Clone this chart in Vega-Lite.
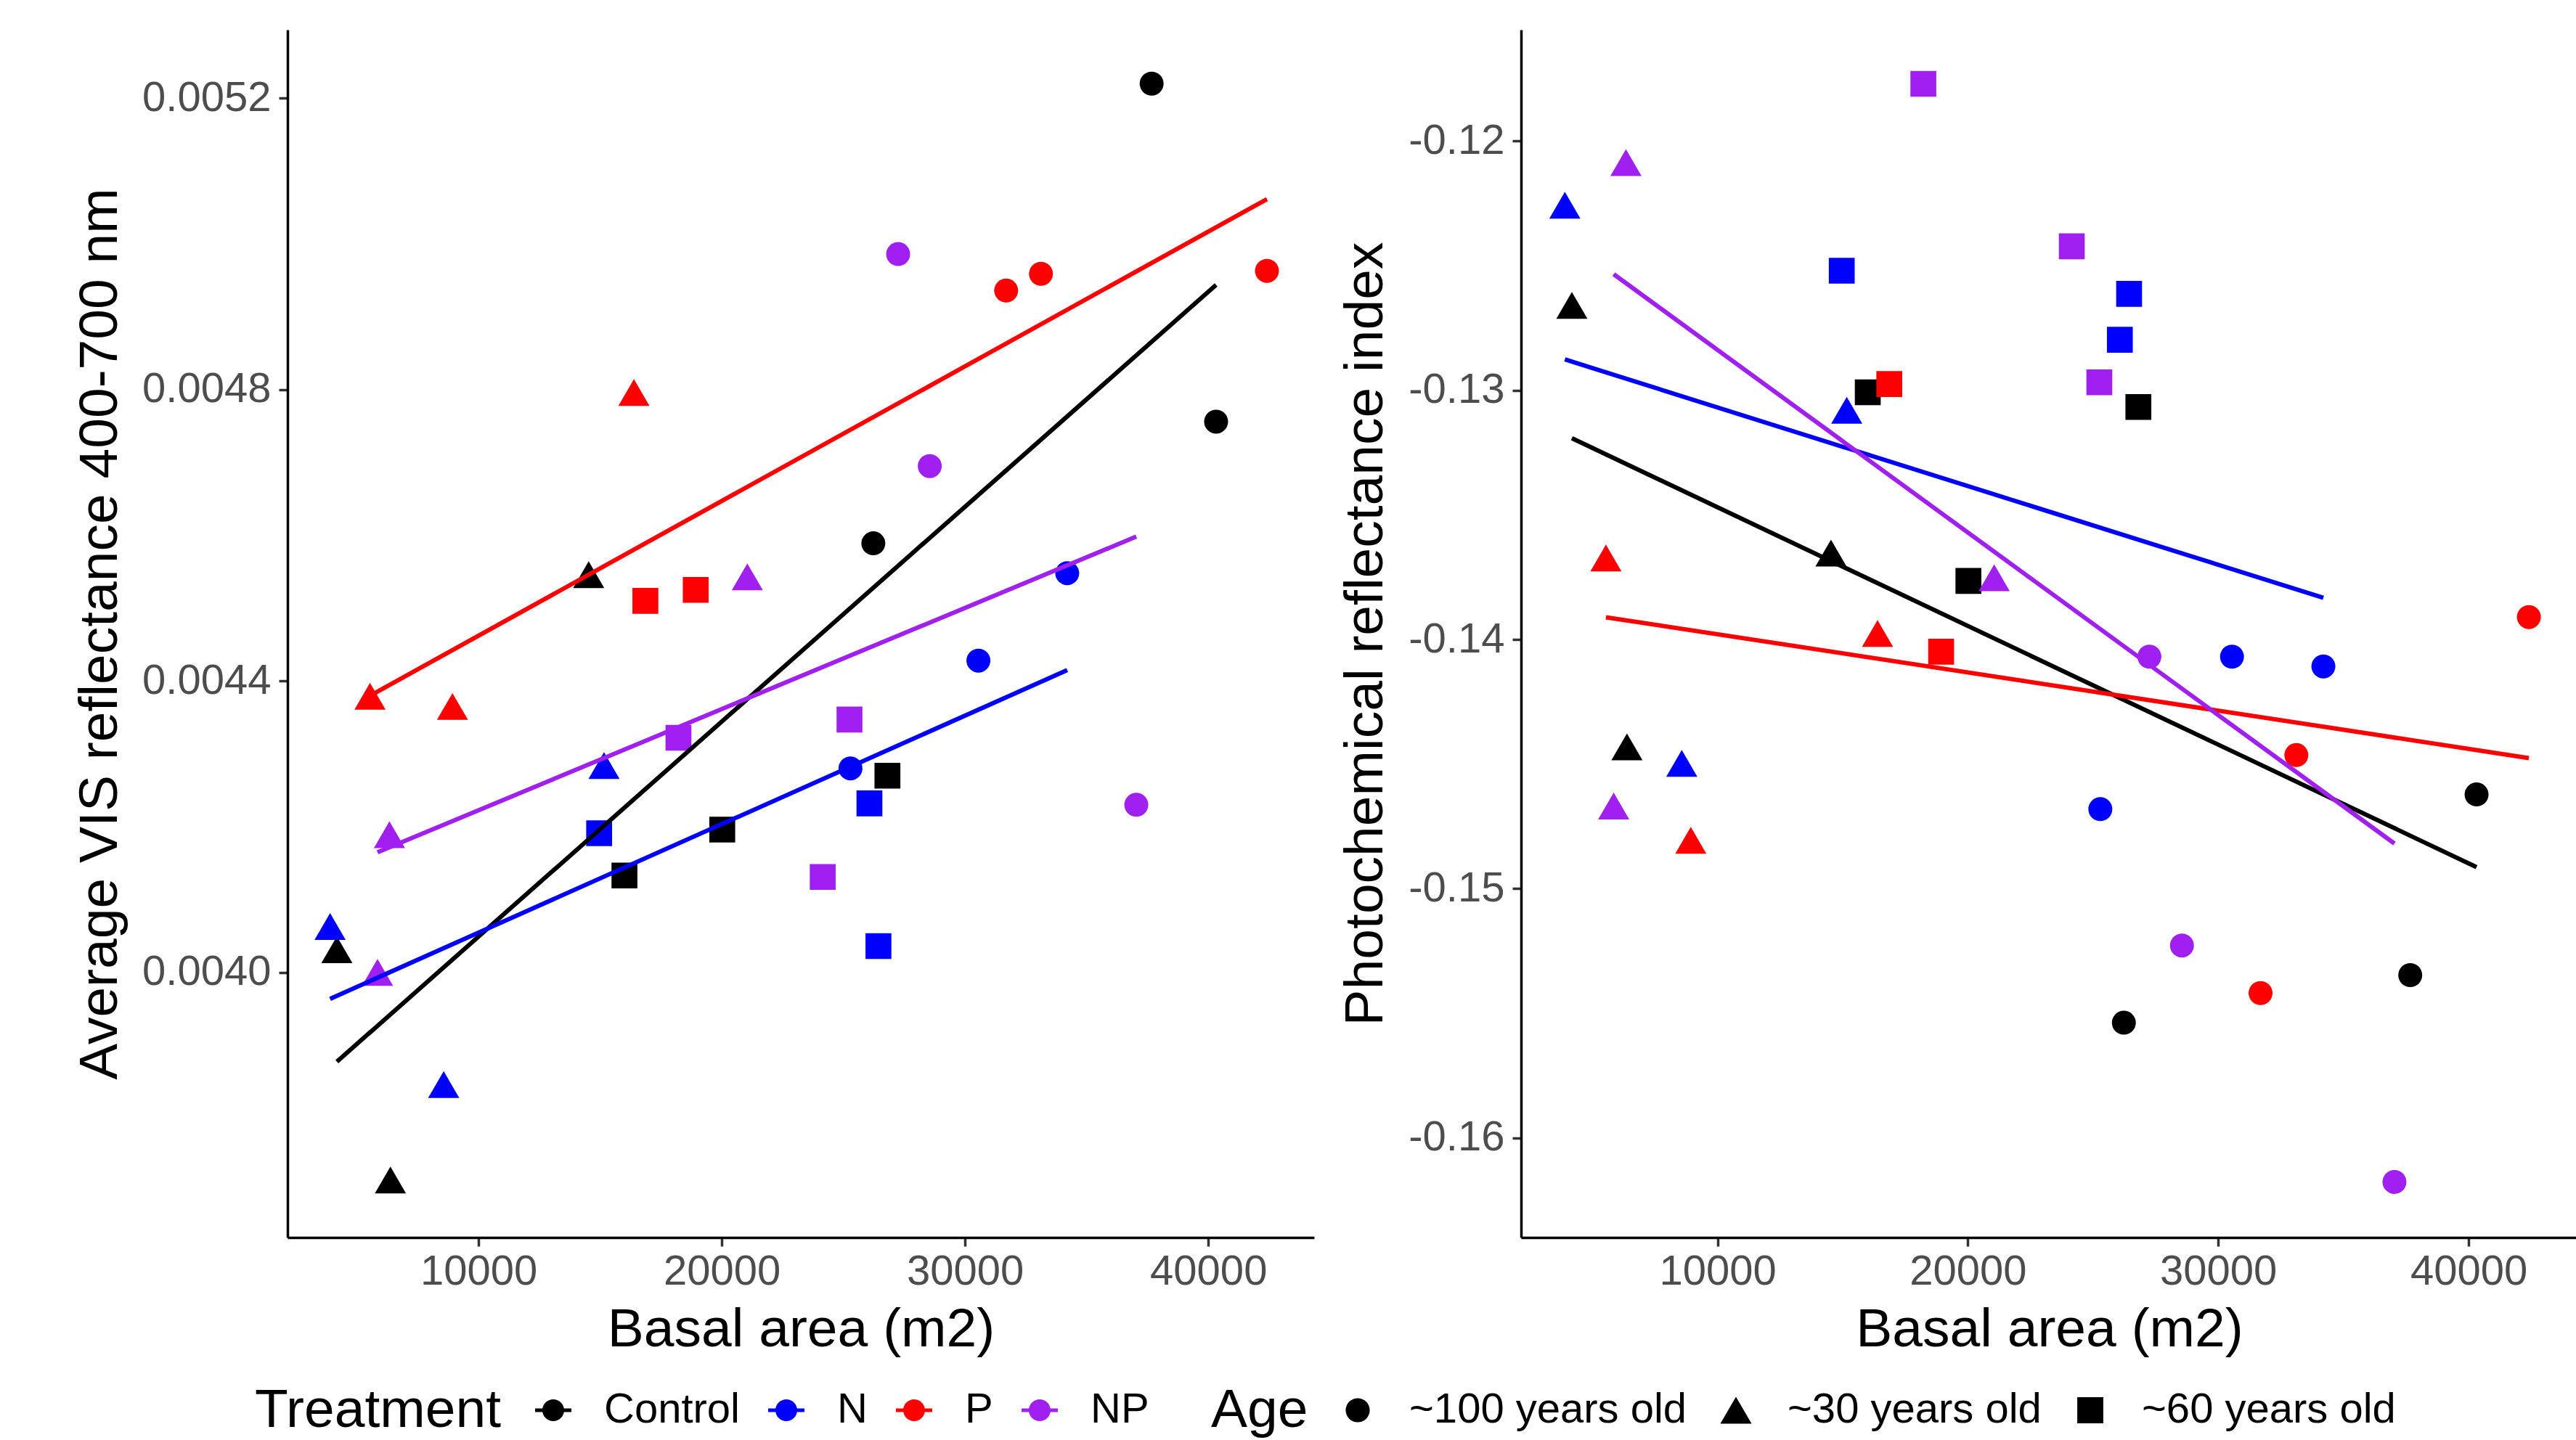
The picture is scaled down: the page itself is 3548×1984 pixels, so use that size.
{
  "$schema": "https://vega.github.io/schema/vega-lite/v6.json",
  "background": "white",
  "padding": {"left": 100, "top": 41, "right": 0, "bottom": 0},
  "autosize": {"type": "pad"},
  "spacing": 33,
  "datasets": {
    "d": [
      {"treatment": "Control", "age": "~100 years old", "basal": 37670, "vis": 0.005220, "pri": -0.15347},
      {"treatment": "Control", "age": "~100 years old", "basal": 40320, "vis": 0.004756, "pri": -0.14622},
      {"treatment": "Control", "age": "~100 years old", "basal": 26230, "vis": 0.004589, "pri": -0.15538},
      {"treatment": "Control", "age": "~30 years old", "basal": 14530, "vis": 0.004546, "pri": -0.13653},
      {"treatment": "Control", "age": "~30 years old", "basal": 4180, "vis": 0.004031, "pri": -0.12659},
      {"treatment": "Control", "age": "~30 years old", "basal": 6380, "vis": 0.003715, "pri": -0.14431},
      {"treatment": "Control", "age": "~60 years old", "basal": 20020, "vis": 0.004196, "pri": -0.13765},
      {"treatment": "Control", "age": "~60 years old", "basal": 16000, "vis": 0.004133, "pri": -0.13008},
      {"treatment": "Control", "age": "~60 years old", "basal": 26810, "vis": 0.004270, "pri": -0.13067},
      {"treatment": "N", "age": "~100 years old", "basal": 34200, "vis": 0.004548, "pri": -0.14108},
      {"treatment": "N", "age": "~100 years old", "basal": 30550, "vis": 0.004428, "pri": -0.14069},
      {"treatment": "N", "age": "~100 years old", "basal": 25290, "vis": 0.004280, "pri": -0.14681},
      {"treatment": "N", "age": "~30 years old", "basal": 3900, "vis": 0.004063, "pri": -0.12257},
      {"treatment": "N", "age": "~30 years old", "basal": 15160, "vis": 0.004284, "pri": -0.13080},
      {"treatment": "N", "age": "~30 years old", "basal": 8570, "vis": 0.003846, "pri": -0.14497},
      {"treatment": "N", "age": "~60 years old", "basal": 14960, "vis": 0.004191, "pri": -0.12520},
      {"treatment": "N", "age": "~60 years old", "basal": 26070, "vis": 0.004232, "pri": -0.12797},
      {"treatment": "N", "age": "~60 years old", "basal": 26440, "vis": 0.004036, "pri": -0.12613},
      {"treatment": "P", "age": "~100 years old", "basal": 42410, "vis": 0.004963, "pri": -0.13910},
      {"treatment": "P", "age": "~100 years old", "basal": 33120, "vis": 0.004959, "pri": -0.14464},
      {"treatment": "P", "age": "~100 years old", "basal": 31690, "vis": 0.004936, "pri": -0.15419},
      {"treatment": "P", "age": "~30 years old", "basal": 16390, "vis": 0.004796, "pri": -0.13976},
      {"treatment": "P", "age": "~30 years old", "basal": 5540, "vis": 0.004379, "pri": -0.13673},
      {"treatment": "P", "age": "~30 years old", "basal": 8930, "vis": 0.004365, "pri": -0.14806},
      {"treatment": "P", "age": "~60 years old", "basal": 16860, "vis": 0.004510, "pri": -0.12975},
      {"treatment": "P", "age": "~60 years old", "basal": 18930, "vis": 0.004525, "pri": -0.14049},
      {"treatment": "NP", "age": "~100 years old", "basal": 27250, "vis": 0.004986, "pri": -0.14069},
      {"treatment": "NP", "age": "~100 years old", "basal": 28550, "vis": 0.004695, "pri": -0.15228},
      {"treatment": "NP", "age": "~100 years old", "basal": 37040, "vis": 0.004230, "pri": -0.16177},
      {"treatment": "NP", "age": "~30 years old", "basal": 21050, "vis": 0.004543, "pri": -0.13752},
      {"treatment": "NP", "age": "~30 years old", "basal": 6340, "vis": 0.004189, "pri": -0.12086},
      {"treatment": "NP", "age": "~30 years old", "basal": 5850, "vis": 0.004000, "pri": -0.14668},
      {"treatment": "NP", "age": "~60 years old", "basal": 18220, "vis": 0.004322, "pri": -0.11770},
      {"treatment": "NP", "age": "~60 years old", "basal": 25250, "vis": 0.004347, "pri": -0.12968},
      {"treatment": "NP", "age": "~60 years old", "basal": 24150, "vis": 0.004131, "pri": -0.12422}
    ]
  },
  "hconcat": [
    {
      "width": 1414,
      "height": 1664,
      "data": {"name": "d"},
      "layer": [
        {
          "mark": {"type": "point", "filled": true, "opacity": 1, "strokeWidth": 0, "size": 1089},
          "encoding": {
            "x": {"field": "basal", "type": "quantitative", "scale": {"domain": [2150, 44350], "nice": false, "zero": false}, "axis": {"values": [10000, 20000, 30000, 40000], "format": "d", "title": "Basal area (m2)"}},
            "y": {"field": "vis", "type": "quantitative", "scale": {"domain": [0.003636, 0.005294], "nice": false, "zero": false}, "axis": {"values": [0.004, 0.0044, 0.0048, 0.0052], "format": ".4f", "title": "Average VIS reflectance 400-700 nm"}},
            "color": {"field": "treatment", "type": "nominal", "scale": {"domain": ["Control", "N", "P", "NP"], "range": ["#000000", "#0000FF", "#FF0000", "#A020F0"]},
              "legend": {"title": "Treatment", "orient": "none", "legendX": -45, "legendY": 1873, "direction": "horizontal", "titleOrient": "left", "symbolType": "M-0.6,0A0.6,0.6,0,1,1,0.6,0A0.6,0.6,0,1,1,-0.6,0ZM-1,-0.1H1V0.1H-1Z", "symbolSize": 2500, "symbolStrokeWidth": 0, "symbolOpacity": 1, "labelOffset": 41, "columnPadding": 35, "titlePadding": 42, "labelFontSize": 58, "titleFontSize": 75, "titleFontWeight": "normal", "labelColor": "black", "titleColor": "black", "titleLimit": 1000, "labelLimit": 1000, "padding": 0}},
            "shape": {"field": "age", "type": "nominal", "scale": {"domain": ["~100 years old", "~30 years old", "~60 years old"], "range": ["circle", "M0,-1.12L1.3,1.12L-1.3,1.12Z", "M-1.08,-1.08H1.08V1.08H-1.08Z"]},
              "legend": {"title": "Age", "orient": "none", "legendX": 1272, "legendY": 1873, "direction": "horizontal", "titleOrient": "left", "symbolSize": 1100, "symbolFillColor": "black", "symbolStrokeColor": "black", "symbolStrokeWidth": 0, "symbolOpacity": 1, "labelOffset": 42, "columnPadding": 38, "titlePadding": 39, "labelFontSize": 58, "titleFontSize": 75, "titleFontWeight": "normal", "labelColor": "black", "titleColor": "black", "titleLimit": 1000, "labelLimit": 1000, "padding": 0}}
          }
        },
        {
          "transform": [{"regression": "vis", "on": "basal", "groupby": ["treatment"]}],
          "mark": {"type": "line", "strokeWidth": 6},
          "encoding": {
            "x": {"field": "basal", "type": "quantitative"},
            "y": {"field": "vis", "type": "quantitative"},
            "color": {"field": "treatment", "type": "nominal", "legend": null}
          }
        }
      ]
    },
    {
      "width": 1455,
      "height": 1664,
      "data": {"name": "d"},
      "layer": [
        {
          "mark": {"type": "point", "filled": true, "opacity": 1, "strokeWidth": 0, "size": 1089},
          "encoding": {
            "x": {"field": "basal", "type": "quantitative", "scale": {"domain": [2150, 44350], "nice": false, "zero": false}, "axis": {"values": [10000, 20000, 30000, 40000], "format": "d", "title": "Basal area (m2)"}},
            "y": {"field": "pri", "type": "quantitative", "scale": {"domain": [-0.164, -0.11553], "nice": false, "zero": false}, "axis": {"values": [-0.16, -0.15, -0.14, -0.13, -0.12], "format": ".2f", "labelExpr": "replace(datum.label, '\u2212', '-')", "title": "Photochemical reflectance index"}},
            "color": {"field": "treatment", "type": "nominal", "scale": {"domain": ["Control", "N", "P", "NP"], "range": ["#000000", "#0000FF", "#FF0000", "#A020F0"]},
              "legend": {"title": "Treatment", "orient": "none", "legendX": -45, "legendY": 1873, "direction": "horizontal", "titleOrient": "left", "symbolType": "M-0.6,0A0.6,0.6,0,1,1,0.6,0A0.6,0.6,0,1,1,-0.6,0ZM-1,-0.1H1V0.1H-1Z", "symbolSize": 2500, "symbolStrokeWidth": 0, "symbolOpacity": 1, "labelOffset": 41, "columnPadding": 35, "titlePadding": 42, "labelFontSize": 58, "titleFontSize": 75, "titleFontWeight": "normal", "labelColor": "black", "titleColor": "black", "titleLimit": 1000, "labelLimit": 1000, "padding": 0}},
            "shape": {"field": "age", "type": "nominal", "scale": {"domain": ["~100 years old", "~30 years old", "~60 years old"], "range": ["circle", "M0,-1.12L1.3,1.12L-1.3,1.12Z", "M-1.08,-1.08H1.08V1.08H-1.08Z"]},
              "legend": {"title": "Age", "orient": "none", "legendX": 1272, "legendY": 1873, "direction": "horizontal", "titleOrient": "left", "symbolSize": 1100, "symbolFillColor": "black", "symbolStrokeColor": "black", "symbolStrokeWidth": 0, "symbolOpacity": 1, "labelOffset": 42, "columnPadding": 38, "titlePadding": 39, "labelFontSize": 58, "titleFontSize": 75, "titleFontWeight": "normal", "labelColor": "black", "titleColor": "black", "titleLimit": 1000, "labelLimit": 1000, "padding": 0}}
          }
        },
        {
          "transform": [{"regression": "pri", "on": "basal", "groupby": ["treatment"]}],
          "mark": {"type": "line", "strokeWidth": 6},
          "encoding": {
            "x": {"field": "basal", "type": "quantitative"},
            "y": {"field": "pri", "type": "quantitative"},
            "color": {"field": "treatment", "type": "nominal", "legend": null}
          }
        }
      ]
    }
  ],
  "resolve": {"scale": {"color": "shared", "shape": "shared"}},
  "config": {
    "font": "Liberation Sans",
    "view": {"stroke": null},
    "axis": {"grid": false, "domainColor": "#000000", "domainWidth": 3.5, "tickColor": "#333333", "tickWidth": 3.5, "tickSize": 12, "labelFont": "Liberation Sans", "labelFontSize": 58, "labelColor": "#4D4D4D", "labelPadding": 11, "titleFont": "Liberation Sans", "titleFontSize": 75, "titleFontWeight": "normal", "titleColor": "#000000", "titlePadding": 20},
    "axisY": {"titlePadding": 20},
    "axisX": {"titlePadding": 14, "labelPadding": 6},
    "legend": {"labelFont": "Liberation Sans", "titleFont": "Liberation Sans"}
  }
}
